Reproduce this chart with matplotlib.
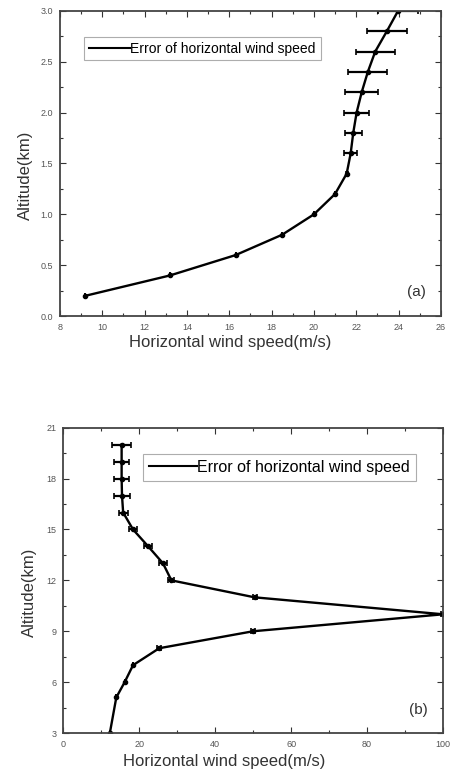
import matplotlib
matplotlib.use("Agg")
import matplotlib.pyplot as plt
from matplotlib.ticker import MultipleLocator
from matplotlib.lines import Line2D

plt.rcParams['font.family'] = ['Liberation Sans', 'DejaVu Sans']

# Panel (a)
speed_a = [9.2, 13.2, 16.3, 18.5, 20.0, 21.0, 21.55, 21.74, 21.86, 22.02, 22.26, 22.55, 22.9, 23.45, 23.98]
alt_a = [0.2, 0.4, 0.6, 0.8, 1.0, 1.2, 1.4, 1.6, 1.8, 2.0, 2.2, 2.4, 2.6, 2.8, 3.0]
err_a = [0, 0, 0, 0, 0, 0, 0.05, 0.3, 0.4, 0.58, 0.78, 0.92, 0.93, 0.93, 0.95]

# Panel (b)
speed_b = [12.3, 14.0, 16.2, 18.4, 25.3, 50.0, 100.0, 50.4, 28.5, 26.3, 22.4, 18.4, 15.8, 15.5, 15.4, 15.4, 15.4]
alt_b = [3.0, 5.1, 6.0, 7.0, 8.0, 9.0, 10.0, 11.0, 12.0, 13.0, 14.0, 15.0, 16.0, 17.0, 18.0, 19.0, 20.0]
err_b = [0, 0, 0, 0, 0.5, 0.5, 0.5, 0.5, 0.8, 1.0, 1.0, 1.0, 1.2, 2.0, 2.0, 2.0, 2.5]

legend_label = "Error of horizontal wind speed"

fig = plt.figure(figsize=(4.54, 7.73), dpi=100)
ax1 = fig.add_axes([0.132, 0.591, 0.839, 0.395])
ax2 = fig.add_axes([0.139, 0.0517, 0.837, 0.395])


def style(ax):
    ax.tick_params(which='both', direction='in', top=True, right=True, labelsize=6.5,
                   width=0.8, colors='#333333', labelcolor='#555555', pad=5)
    ax.tick_params(which='major', length=4)
    ax.tick_params(which='minor', length=2.5)
    for s in ax.spines.values():
        s.set_linewidth(1.3)
        s.set_color('#444444')


handle = Line2D([], [], color='black', lw=1.5)

ax1.errorbar(speed_a, alt_a, xerr=err_a, color='black', lw=1.7, marker='o', ms=3,
             capsize=2.5, elinewidth=1.6, capthick=1.2)
ax1.set_xlim(8, 26)
ax1.set_ylim(0, 3.0)
ax1.xaxis.set_major_locator(MultipleLocator(2))
ax1.xaxis.set_minor_locator(MultipleLocator(1))
ax1.yaxis.set_major_locator(MultipleLocator(0.5))
ax1.yaxis.set_minor_locator(MultipleLocator(0.25))
ax1.yaxis.set_major_formatter(plt.FormatStrFormatter('%.1f'))
style(ax1)
ax1.set_xlabel("Horizontal wind speed(m/s)", fontsize=12, color='#333333')
ax1.set_ylabel("Altitude(km)", fontsize=12, color='#333333')
ax1.xaxis.set_label_coords(0.446, -0.062)
ax1.yaxis.set_label_coords(-0.071, 0.462)
leg1 = ax1.legend([handle], [legend_label], loc='upper left', bbox_to_anchor=(0.063, 0.915),
                  fontsize=10, frameon=True, fancybox=False, edgecolor='#999999',
                  handlelength=3.0, borderpad=0.35, handletextpad=0.0, borderaxespad=0)
leg1.get_frame().set_linewidth(0.8)
ax1.text(0.96, 0.08, "(a)", transform=ax1.transAxes, fontsize=11, ha='right', va='center', color='#333333')

ax2.errorbar(speed_b, alt_b, xerr=err_b, color='black', lw=1.7, marker='o', ms=3,
             capsize=2.5, elinewidth=1.6, capthick=1.2)
ax2.set_xlim(0, 100)
ax2.set_ylim(3, 21)
ax2.xaxis.set_major_locator(MultipleLocator(20))
ax2.xaxis.set_minor_locator(MultipleLocator(10))
ax2.yaxis.set_major_locator(MultipleLocator(3))
ax2.yaxis.set_minor_locator(MultipleLocator(1.5))
style(ax2)
ax2.set_xlabel("Horizontal wind speed(m/s)", fontsize=12, color='#333333')
ax2.set_ylabel("Altitude(km)", fontsize=12, color='#333333')
ax2.xaxis.set_label_coords(0.424, -0.07)
ax2.yaxis.set_label_coords(-0.068, 0.462)
leg2 = ax2.legend([handle], [legend_label], loc='upper left', bbox_to_anchor=(0.21, 0.915),
                  fontsize=11.5, frameon=True, fancybox=False, edgecolor='#999999',
                  handlelength=3.0, borderpad=0.4, handletextpad=0.0, borderaxespad=0)
leg2.get_frame().set_linewidth(0.8)
ax2.text(0.96, 0.075, "(b)", transform=ax2.transAxes, fontsize=11, ha='right', va='center', color='#333333')

fig.savefig("out.png", dpi=100)
